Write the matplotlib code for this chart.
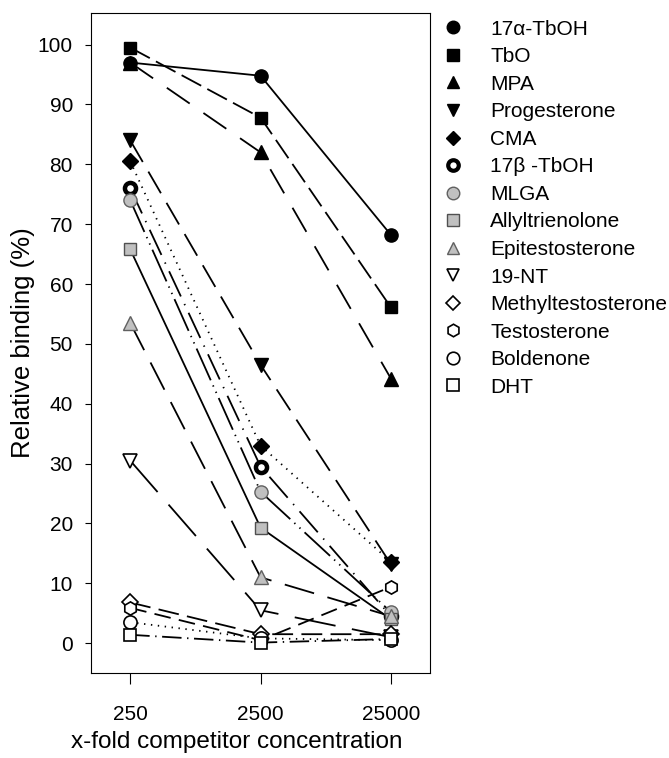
import matplotlib
matplotlib.use("Agg")
import matplotlib.pyplot as plt
from matplotlib.lines import Line2D

plt.rcParams['font.family'] = ['Liberation Sans', 'DejaVu Sans']
plt.rcParams['lines.scale_dashes'] = False

concentrations = [250, 2500, 25000]
tick_labels = ['250', '2500', '25000']

names = ['17\u03b1-TbOH', 'TbO', 'MPA', 'Progesterone', 'CMA', '17\u03b2 -TbOH', 'MLGA',
         'Allyltrienolone', 'Epitestosterone', '19-NT', 'Methyltestosterone',
         'Testosterone', 'Boldenone', 'DHT']

tboh_17a = [97.0, 94.8, 68.2]
tbo = [99.5, 87.8, 56.1]
mpa = [97.0, 82.0, 44.2]
progesterone = [84.0, 46.5, 13.2]
cma = [80.5, 33.0, 13.6]
tboh_17b = [76.0, 29.5, 4.5]
mlga = [74.0, 25.3, 5.2]
allyltrienolone = [65.8, 19.3, 4.0]
epitestosterone = [53.5, 11.0, 4.5]
nt19 = [30.5, 5.5, 1.0]
methyltestosterone = [6.8, 1.5, 1.5]
testosterone = [5.9, 0.5, 9.4]
boldenone = [3.5, 0.8, 0.5]
dht = [1.4, 0.1, 0.7]

series = [tboh_17a, tbo, mpa, progesterone, cma, tboh_17b, mlga,
          allyltrienolone, epitestosterone, nt19, methyltestosterone,
          testosterone, boldenone, dht]

GREY = '#c0c0c0'
# marker, facecolor, edgecolor, edgewidth, size, linestyle
styles = [
    ('o', 'black', 'black', 1.0, 9.5, '-'),
    ('s', 'black', 'black', 1.0, 8.5, (0, (16, 5))),
    ('^', 'black', 'black', 1.0, 9.5, (0, (20, 12))),
    ('v', 'black', 'black', 1.0, 9.5, (0, (18, 8))),
    ('D', 'black', 'black', 1.0, 8.0, (0, (1, 4))),
    ('o', 'white', 'black', 3.2, 8.0, (0, (20, 6, 1, 6))),
    ('o', GREY, '#606060', 1.0, 9.5, (0, (25, 4, 1, 4, 1, 4))),
    ('s', GREY, '#505050', 1.0, 8.5, '-'),
    ('^', GREY, '#606060', 1.0, 9.5, (0, (22, 10))),
    ('v', 'white', 'black', 1.2, 9.5, (0, (30, 12))),
    ('D', 'white', 'black', 1.2, 8.0, (0, (15, 6))),
    ('h', 'white', 'black', 1.2, 9.5, (0, (12, 6))),
    ('o', 'white', 'black', 1.2, 9.5, (0, (1, 4))),
    ('s', 'white', 'black', 1.2, 8.5, (0, (14, 4, 1, 4))),
]

fig = plt.figure(figsize=(6.69, 7.58), dpi=100)
ax = fig.add_axes([0.136, 0.112, 0.507, 0.871])

n = len(series)
for i, (vals, st) in enumerate(zip(series, styles)):
    m, fc, ec, ew, ms, ls = st
    ax.plot(concentrations, vals, color='black', lw=1.3, linestyle=ls,
            zorder=10 + i)
    mz = 40 + i if i != 0 else 60
    ax.plot(concentrations, vals, linestyle='none', marker=m, markersize=ms,
            markerfacecolor=fc, markeredgecolor=ec, markeredgewidth=ew,
            zorder=mz)

ax.set_xscale('log')
ax.set_xlim(125, 50000)
ax.set_ylim(-5, 105.3)
ax.set_xticks(concentrations)
ax.set_xticklabels(tick_labels)
ax.xaxis.set_minor_locator(matplotlib.ticker.NullLocator())
ax.set_yticks(range(0, 101, 10))
ax.tick_params(axis='x', direction='out', length=8, pad=15, labelsize=15, width=0.8)
ax.tick_params(axis='y', direction='out', length=4, pad=9, labelsize=15, width=0.8)
for sp in ax.spines.values():
    sp.set_linewidth(0.8)

ax.set_ylabel('Relative binding (%)', fontsize=18.5)
ax.yaxis.set_label_coords(-0.165, 0.5)
ax.set_xlabel('x-fold competitor concentration', fontsize=17.5)
ax.xaxis.set_label_coords(0.43, -0.088)

handles = []
for st in styles:
    m, fc, ec, ew, ms, ls = st
    handles.append(Line2D([], [], linestyle='none', marker=m,
                          markersize=ms * 0.95, markerfacecolor=fc,
                          markeredgecolor=ec, markeredgewidth=ew if ew < 2 else 3.0))
leg = fig.legend(handles, names, loc='upper left', bbox_to_anchor=(0.661, 0.974),
                 frameon=False, fontsize=15, handlelength=1.0, handletextpad=1.3,
                 labelspacing=0.41, borderaxespad=0, borderpad=0)

fig.savefig('out.png', dpi=100)
